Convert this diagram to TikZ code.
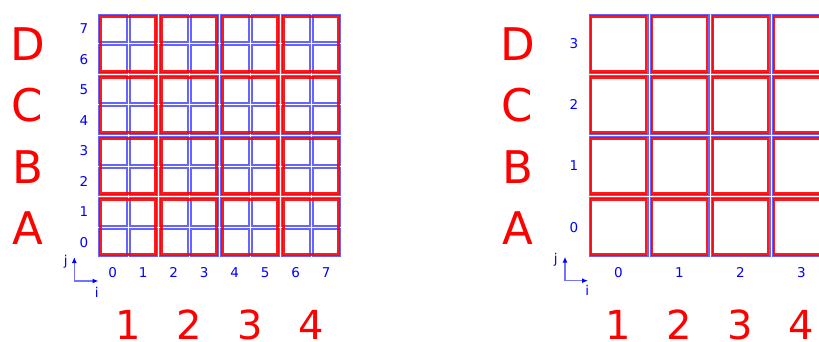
\documentclass[tikz,border=0pt]{standalone}
\usepackage{fontspec}
\setmainfont{DejaVu Sans}
\usetikzlibrary{arrows.meta}
\tikzset{
  cellline/.style={draw=blue, draw opacity=0.6, line width=2pt},
  blockline/.style={draw=red, draw opacity=0.9, line width=2.3pt},
  biglabel/.style={text=red, font=\fontsize{45}{50}\selectfont, anchor=base, inner sep=0pt},
  bignum/.style={text=red, font=\fontsize{40}{46}\selectfont, anchor=base, inner sep=0pt, text depth=0pt},
  smalllabel/.style={text=blue, font=\fontsize{13.5}{16}\selectfont, anchor=base, inner sep=0pt},
  axislabel/.style={text=blue, font=\fontsize{13.5}{16}\selectfont, inner sep=0pt},
  axisline/.style={draw=blue!55, line width=1.3pt, -{Latex[color=blue,length=6pt,width=5pt]}},
}
\begin{document}
\begin{tikzpicture}[x=1pt,y=-1pt]
\useasboundingbox (0,0) rectangle (819,342);
\clip (0,0) rectangle (819,342);
% left grid: fine cells
\foreach \i in {0,...,7}{
  \foreach \j in {0,...,7}{
    \draw[cellline] ({97.5+30.5*\i+1.5},{13.5+30.5*\j+1.5}) rectangle ({97.5+30.5*(\i+1)-1.5},{13.5+30.5*(\j+1)-1.5});
  }
}
% left grid: blocks
\foreach \i in {0,...,3}{
  \foreach \j in {0,...,3}{
    \draw[blockline] ({97.5+61*\i+3},{13.5+61*\j+3}) rectangle ({97.5+61*(\i+1)-3},{13.5+61*(\j+1)-3});
  }
}
% right grid
\foreach \i in {0,...,3}{
  \foreach \j in {0,...,3}{
    \draw[cellline] ({588+61*\i+1.5},{13.5+61*\j+1.5}) rectangle ({588+61*(\i+1)-1.5},{13.5+61*(\j+1)-1.5});
    \draw[blockline] ({588+61*\i+3},{13.5+61*\j+3}) rectangle ({588+61*(\i+1)-3},{13.5+61*(\j+1)-3});
  }
}
% big letters
\foreach \l [count=\k from 0] in {D,C,B,A}{
  \node[biglabel] (L\l) at (27.5,{61+61*\k}) {\l};
  \node[biglabel] (R\l) at (517.5,{61+61*\k}) {\l};
}
% left small labels
\foreach \n in {0,...,7}{
  \node[smalllabel] (rowL\n) at (84,{13.5+30.5*(7-\n)+15.25+5}) {\n};
  \node[smalllabel] (colL\n) at ({97.5+30.5*\n+15.25},277.3) {\n};
}
% right small labels
\foreach \n in {0,...,3}{
  \node[smalllabel] (rowR\n) at (574,{13.5+61*(3-\n)+30.5+5}) {\n};
  \node[smalllabel] (colR\n) at ({588+61*\n+30.5},277.3) {\n};
}
% big digits
\foreach \n in {1,...,4}{
  \node[bignum] (numL\n) at ({97.5+61*(\n-1)+30.5},339.5) {\n};
  \node[bignum] (numR\n) at ({588+61*(\n-1)+30.5},339.5) {\n};
}
% axes left
\coordinate (oL) at (74.3,281);
\coordinate (jL) at (74.3,257);
\coordinate (iL) at (98.5,281);
\draw[axisline] (oL) -- (jL);
\draw[axisline] (oL) -- (iL);
\node[axislabel] (jlabL) at (65.7,261.5) {j};
\node[axislabel] (ilabL) at (96.7,292) {i};
% axes right
\coordinate (oR) at (565,280.7);
\coordinate (jR) at (565,256.7);
\coordinate (iR) at (588,280.7);
\draw[axisline] (oR) -- (jR);
\draw[axisline] (oR) -- (iR);
\node[axislabel] (jlabR) at (555.7,260) {j};
\node[axislabel] (ilabR) at (587.3,290) {i};
\end{tikzpicture}
\end{document}
